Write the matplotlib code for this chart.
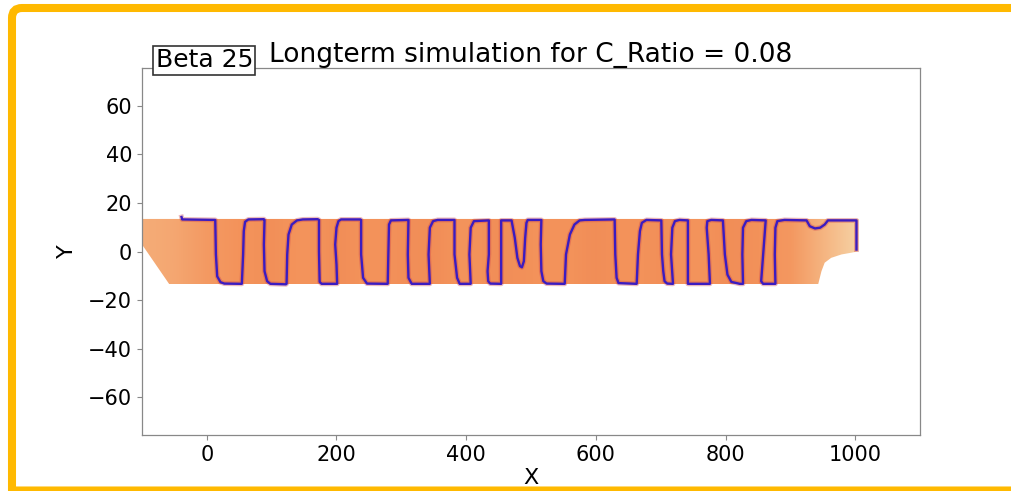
import numpy as np
import matplotlib
matplotlib.use('Agg')
import matplotlib.pyplot as plt
from matplotlib.colors import LinearSegmentedColormap
from matplotlib.patches import Polygon, PathPatch
from matplotlib.path import Path

# last centerline of the run
line_x = [-39, -38, 13,
          14, 16, 21, 27, 54,
          56, 57, 59, 64, 88,
          89, 88, 89, 93, 98, 122,
          123, 124, 126, 131, 139, 148, 171,
          173, 173, 174, 177, 201,
          200, 198, 200, 203, 207, 237,
          238, 238, 241, 247, 279,
          280, 281, 284, 311,
          311, 310, 311, 316, 344,
          342, 344, 349, 356, 382,
          382, 386, 390, 407,
          405, 407, 412, 435,
          435, 433, 434, 437, 454,
          454, 470,
          475, 479, 483, 486, 489, 491, 493, 495, 516,
          515, 516, 519, 524, 552,
          554, 560, 567, 575, 583, 629,
          630, 632, 635, 663,
          665, 668, 671, 678, 701,
          702, 704, 706, 710, 719,
          716, 718, 722, 729, 742,
          742, 742, 776,
          774, 771, 772, 778, 796,
          799, 803, 809, 822, 827,
          826, 827, 832, 840, 862,
          858, 855, 858, 877,
          876, 877, 880, 891, 925,
          930, 938, 946, 953, 958, 1002,
          1002]
line_y = [14.2, 13.2, 13.0,
          -1.2, -10.2, -12.6, -13.2, -13.3,
          -1.2, 8.4, 12.2, 13.2, 13.3,
          13.0, 2.9, -8.1, -12.2, -13.3, -13.5,
          -13.3, -1.2, 7.0, 11.1, 12.8, 13.2, 13.3,
          13.0, 0.0, -12.5, -13.3, -13.3,
          -5.3, 2.9, 9.8, 12.5, 13.2, 13.2,
          13.0, -1.2, -10.8, -13.2, -13.3,
          -1.2, 11.1, 12.8, 13.0,
          12.6, -1.2, -10.8, -13.3, -13.3,
          -1.2, 9.8, 12.5, 13.0, 13.0,
          -1.2, -10.8, -13.3, -13.3,
          -1.2, 9.8, 12.5, 12.8,
          -1.2, -8.1, -12.2, -13.2, -13.3,
          12.8, 12.8,
          5.6, -2.6, -6.0, -6.5, -4.0, 5.6, 11.8, 13.0, 13.0,
          2.9, -8.1, -12.2, -13.2, -13.3,
          -1.2, 7.0, 11.1, 12.8, 13.0, 13.2,
          -1.2, -10.8, -13.0, -13.3,
          -1.2, 8.4, 11.8, 13.0, 12.8,
          -1.2, -8.1, -12.2, -13.2, -13.3,
          -1.2, 9.8, 12.5, 13.0, 12.8,
          -1.2, -13.3, -13.3,
          -1.2, 9.8, 12.5, 13.0, 12.8,
          -1.2, -9.5, -12.5, -13.3, -13.3,
          -1.2, 9.8, 12.5, 13.0, 12.8,
          -1.2, -12.2, -13.3, -13.3,
          -1.2, 9.8, 12.5, 13.0, 12.8,
          10.4, 9.5, 9.8, 11.1, 12.8, 12.8,
          0.8]

# outline of the area swept by the earlier centerlines
band_x = [-100, 1005, 1005, 994, 979, 963, 953, 948, 943, -58, -100]
band_y = [13.4, 13.4, 0.1, -0.5, -1.2, -2.6, -4.6, -8.1, -13.4, -13.4, 2.9]

# how saturated the swept area looks, every 50 units from x=-100 to 1000
tone = [0.58, 0.64, 0.78, 0.85, 0.87, 0.84, 0.88, 0.85, 0.87, 0.88,
        0.84, 0.88, 0.86, 0.85, 0.88, 0.85, 0.87, 0.84, 0.88, 0.86,
        0.8, 0.5, 0.2]

title = 'Longterm simulation for C_Ratio = 0.08'
tag = 'Beta 25'
xticks = [0, 200, 400, 600, 800, 1000]
yticks = [-60, -40, -20, 0, 20, 40, 60]

cmap = LinearSegmentedColormap.from_list(
    'swept', [(0.0, '#f7e2b8'), (0.5, '#f5b480'), (0.86, '#f3925a'), (1.0, '#e8744a')])

W, H = 1012, 491
fig = plt.figure(figsize=(W / 100, H / 100), dpi=100)
ax = fig.add_axes([0.1403, 0.114, 0.7688, 0.7475])

band = Polygon(np.column_stack([band_x, band_y]), closed=True,
               fc='none', ec='none', transform=ax.transData)
ax.add_patch(band)
im = ax.imshow(np.array(tone)[None, :], extent=[-125, 1025, -13.4, 13.4],
               aspect='auto', cmap=cmap, vmin=0, vmax=1,
               interpolation='bilinear', origin='lower')
im.set_clip_path(band)

# recent steps hug the final line
ax.plot(line_x, line_y, color='#c8404a', lw=3.5, alpha=0.35, solid_joinstyle='round')
ax.plot(line_x, line_y, color='#3b1cc0', lw=1.7, solid_joinstyle='round')

ax.set_xlim(-100, 1100)
ax.set_ylim(-75.5, 75.5)
ax.set_xticks(xticks)
ax.set_yticks(yticks)
ax.tick_params(labelsize=15, color='#888888', length=3.5)
for s in ax.spines.values():
    s.set_color('#888888')
    s.set_linewidth(0.9)

ax.set_title(title, fontsize=19, pad=4)
ax.set_xlabel('X', fontsize=16, labelpad=2)
ax.set_ylabel('Y', fontsize=16, labelpad=8)
ax.text(0.0174, 0.988, tag, transform=ax.transAxes, fontsize=18,
        ha='left', va='bottom',
        bbox=dict(boxstyle='square,pad=0.1', fc='white', ec='#333333', lw=1.2))

# yellow frame round the slide (open on the right, runs off the picture)
px = [(W + 40, 483), (22, 483), (12, 483), (12, 473), (12, -10),
      (8, 0.5), (W + 40, 0.5)]
codes = [Path.MOVETO, Path.LINETO, Path.CURVE3, Path.CURVE3, Path.LINETO,
         Path.MOVETO, Path.LINETO]
verts = [(x / W, y / H) for x, y in px]
frame = PathPatch(Path(verts, codes), transform=fig.transFigure,
                  fill=False, ec='#ffb900', lw=5.8, zorder=10)
fig.add_artist(frame)

fig.savefig('out.png', dpi=100, facecolor='white')
